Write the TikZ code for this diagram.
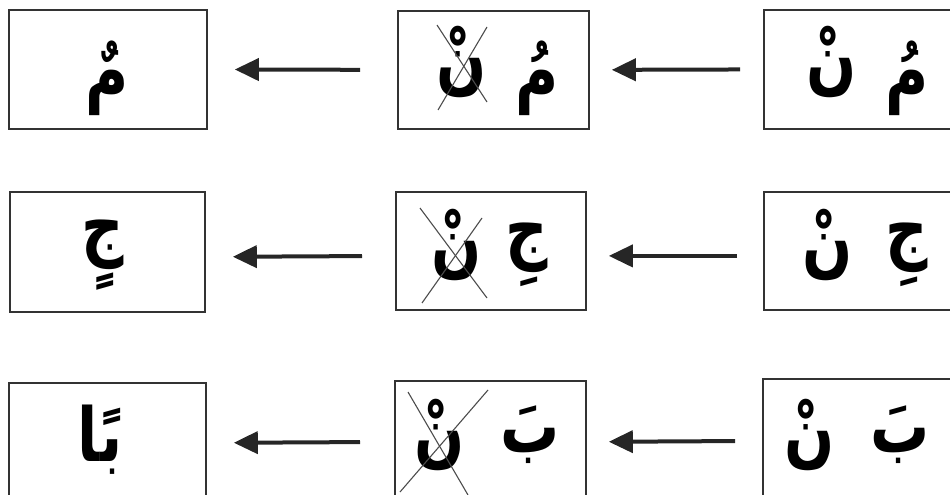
\documentclass[tikz,border=0pt]{standalone}
\usepackage{fontspec}
\usepackage{graphicx}
\TeXXeTstate=1
\newfontfamily\arabicfont[Script=Arabic]{DejaVu Sans}
\newcommand{\ar}[1]{\scalebox{0.95}[1.2]{\beginR #1\endR}}
\usetikzlibrary{arrows.meta}
\begin{document}
\begin{tikzpicture}[x=1pt,y=-1pt,
  box/.style={draw=black!80, line width=1.8pt, anchor=north west, inner sep=0pt},
  glyph/.style={font=\arabicfont\bfseries\fontsize{62}{70}\selectfont, inner sep=0pt},
  arr/.style={line width=4pt, black!85, -{Triangle[length=24pt,width=22pt]}},
  xline/.style={black!70, line width=1.1pt}]
\useasboundingbox (0,0) rectangle (950,495);
% row 1
\node[box, minimum width=198pt, minimum height=119pt] (b11) at (8,9) {};
\node[box, minimum width=191pt, minimum height=118pt] (b12) at (397,10) {};
\node[box, minimum width=200pt, minimum height=119pt] (b13) at (763,9) {};
% row 2
\node[box, minimum width=195pt, minimum height=120pt] (b21) at (9,191) {};
\node[box, minimum width=190pt, minimum height=118pt] (b22) at (395,191) {};
\node[box, minimum width=200pt, minimum height=118pt] (b23) at (763,191) {};
% row 3
\node[box, minimum width=197pt, minimum height=120pt] (b31) at (8,382) {};
\node[box, minimum width=191pt, minimum height=122pt] (b32) at (394,380) {};
\node[box, minimum width=200pt, minimum height=124pt] (b33) at (762,378) {};
% arrows
\draw[arr, shorten <=37pt, shorten >=27pt] (b12.west) -- (b11.east);
\draw[arr, shorten <=23pt, shorten >=22pt] (b13.west) -- (b12.east);
\draw[arr, shorten <=33pt, shorten >=27pt] ([yshift=-5pt]b22.west) -- ([yshift=-5pt]b21.east);
\draw[arr, shorten <=26pt, shorten >=22pt] ([yshift=-5pt]b23.west) -- ([yshift=-5pt]b22.east);
\draw[arr, shorten <=34pt, shorten >=27pt] (b32.west) -- (b31.east);
\draw[arr, shorten <=27pt, shorten >=22pt] (b33.west) -- (b32.east);
% letters row 1
\node[glyph] (m13) at (907,78) {\ar{مُ}};
\node[glyph] (n13) at (832,62) {\ar{نْ}};
\node[glyph] (m12) at (537,78) {\ar{مُ}};
\node[glyph] (n12) at (462,62) {\ar{نْ}};
\node[glyph] (m11) at (107,78) {\ar{مٌ}};
% letters row 2
\node[glyph] (j23) at (907,255) {\ar{جِ}};
\node[glyph] (n23) at (828,245) {\ar{نْ}};
\node[glyph] (j22) at (527,255) {\ar{جِ}};
\node[glyph] (n22) at (457,245) {\ar{نْ}};
\node[glyph] (j21) at (103,255) {\ar{جٍ}};
% letters row 3
\node[glyph] (b33l) at (900,435) {\ar{بَ}};
\node[glyph] (n33) at (810,435) {\ar{نْ}};
\node[glyph] (b32l) at (530,435) {\ar{بَ}};
\node[glyph] (n32) at (440,435) {\ar{نْ}};
\node[glyph] (ba31) at (100,440) {\ar{بًا}};
% crosses
\draw[xline] (437,25) -- (487,102);
\draw[xline] (487,27) -- (438,110);
\draw[xline] (420,208) -- (487,298);
\draw[xline] (482,218) -- (422,303);
\draw[xline] (408,392) -- (468,495);
\draw[xline] (488,390) -- (400,492);
\end{tikzpicture}
\end{document}
